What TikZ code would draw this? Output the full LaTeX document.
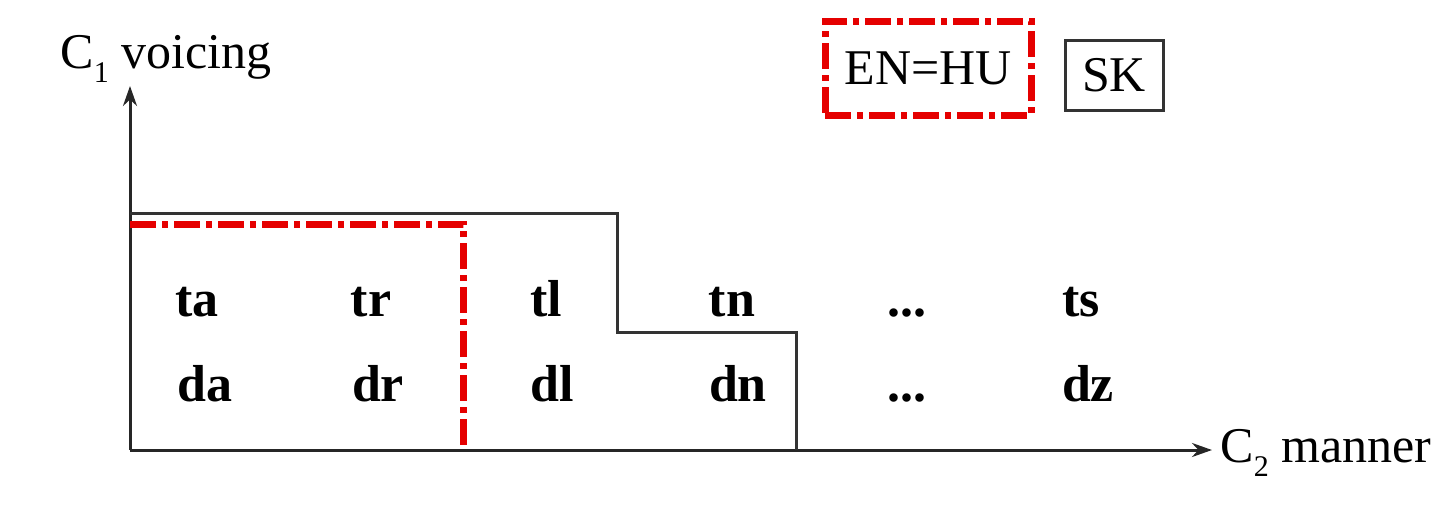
\documentclass[tikz,border=0pt]{standalone}
\usepackage{fontspec}
\setmainfont{Liberation Serif}
\usetikzlibrary{arrows.meta}
\newcommand{\lowsub}[1]{\raisebox{-7pt}{\fontsize{15}{16}\selectfont #1}}
\begin{document}
\begin{tikzpicture}[x=0.5pt,y=-0.5pt,
  axis/.style={line width=1.5pt,draw=black!85,-{Stealth[length=10pt,width=7pt]}},
  outline/.style={line width=1.5pt,draw=black!80},
  reddash/.style={line width=3.5pt,draw=red!90!black,dash pattern=on 13pt off 3pt on 3pt off 3pt},
  syl/.style={font=\fontsize{26}{30}\selectfont\bfseries,inner sep=0pt,anchor=base},
  axlabel/.style={font=\fontsize{25}{30}\selectfont,inner sep=0pt},
  legend/.style={font=\fontsize{25}{30}\selectfont,inner sep=0pt}]
\useasboundingbox (0,0) rectangle (1437,505);

% axes
\coordinate (o) at (130,450);
\coordinate (ytip) at (130,86);
\coordinate (xtip) at (1212,450);
\draw[axis] (o) -- (ytip);
\draw[axis] (o) -- (xtip);
\node[axlabel,anchor=base west] (ylab) at (60,68) {C\lowsub{1} voicing};
\node[axlabel,anchor=base west] (xlab) at (1220,462) {C\lowsub{2} manner};

% SK region (staircase)
\draw[outline] (130,213) -- (617,213) -- (617,332) -- (796,332) -- (796,450);

% EN=HU region
\draw[reddash] (130,224) -- (463,224) -- (463,450);

% syllables
\node[syl] (ta) at (197,316) {ta};
\node[syl] (tr) at (371,316) {tr};
\node[syl] (tl) at (546,316) {tl};
\node[syl] (tn) at (732,316) {tn};
\node[syl] (te) at (907,316) {...};
\node[syl] (ts) at (1081,316) {ts};
\node[syl] (da) at (205,401) {da};
\node[syl] (dr) at (378,401) {dr};
\node[syl] (dl) at (552,401) {dl};
\node[syl] (dn) at (738,401) {dn};
\node[syl] (de) at (907,401) {...};
\node[syl] (dz) at (1088,401) {dz};

% legend
\node[legend,anchor=center,draw=red!90!black,line width=3.5pt,dash pattern=on 13pt off 3pt on 3pt off 3pt,
      minimum width=103pt,minimum height=47pt] (enhu) at (928,68) {EN=HU};
\node[legend,anchor=center,draw=black!80,line width=1.5pt,minimum width=49pt,minimum height=35pt] (sk) at (1114,75) {SK};
\end{tikzpicture}
\end{document}
